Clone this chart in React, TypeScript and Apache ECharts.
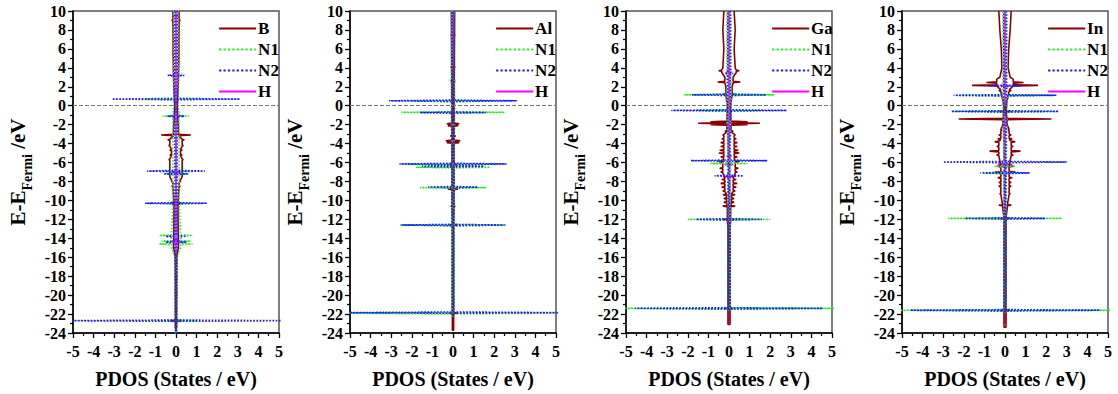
import React, { useEffect, useRef } from "react";
import * as echarts from "echarts";

const FONT = "Liberation Serif, Times New Roman, serif";

// ---- tick / axis ranges ----
const X_MIN = -5;
const X_MAX = 5;
const Y_MIN = -24;
const Y_MAX = 10;

// ---- panel metals ----
const metals = ["B", "Al", "Ga", "In"];
const speciesN = ["N1", "N2", "H"];

// ---- Panel 1 (B): column half-widths [E, v] and peaks [E, height] ----
const p1_M_col: [number, number][] = [[10, 0.15], [6, 0.14], [3, 0.12], [1.5, 0.1], [0, 0.06], [-2.5, 0.12], [-4, 0.3], [-5, 0.22], [-6, 0.3], [-7.5, 0.3], [-8.2, 0.15], [-12, 0.1], [-15, 0.12], [-16, 0.03], [-23.5, 0.03]];
const p1_M_peaks: [number, number][] = [[9, 0.2], [7, 0.15], [5.5, 0.15], [-3.1, 0.72], [-3.6, 0.4], [-4.2, 0.35], [-4.7, 0.3], [-5.2, 0.3], [-5.7, 0.35], [-6.2, 0.3], [-6.9, 0.35], [-7.4, 0.3], [-8.5, 0.2], [-10.3, 0.3], [-22.7, 0.3]];
const p1_N1_col: [number, number][] = [[10, 0.12], [1, 0.1], [-1, 0.15], [-8, 0.15], [-13.5, 0.22], [-15, 0.22], [-16, 0.03], [-24, 0.03]];
const p1_N1_peaks: [number, number][] = [[0.7, 1.5], [-1.1, 0.62], [-6.9, 0.6], [-7.2, 0.5], [-10.3, 0.6], [-13.7, 0.8], [-14.3, 0.7], [-14.6, 0.8], [-22.7, 1.0]];
const p1_N2_col: [number, number][] = [[10, 0.06], [-16, 0.05], [-24, 0.02]];
const p1_N2_peaks: [number, number][] = [[3.2, 0.4], [0.7, 3.1], [-1.1, 0.4], [-6.9, 1.4], [-7.2, 0.6], [-10.3, 1.5], [-13.8, 0.5], [-14.4, 0.5], [-22.7, 5.5]];
const p1_H_col: [number, number][] = [[10, 0], [-24, 0]];
const p1_H_peaks: [number, number][] = [[9.5, 0.1], [-7, 0.22], [-10.2, 0.15], [-14.3, 0.2]];

// ---- Panel 2 (Al) ----
const p2_M_col: [number, number][] = [[10, 0.08], [0, 0.05], [-23.7, 0.03]];
const p2_M_peaks: [number, number][] = [[-1.9, 0.3], [-2.1, 0.25], [-3.2, 0.12], [-3.7, 0.35], [-3.9, 0.3], [-6.2, 0.2], [-8.8, 0.25], [-10.6, 0.1], [-12.6, 0.15], [-21.9, 0.2]];
const p2_N1_col: [number, number][] = [[10, 0.08], [-22, 0.05], [-22.2, 0.02]];
const p2_N1_peaks: [number, number][] = [[2.7, 0.15], [0.5, 2.0], [-0.7, 2.5], [-6.2, 2.2], [-6.5, 1.8], [-8.65, 1.6], [-12.6, 2.6], [-21.9, 5.5]];
const p2_N2_col: [number, number][] = [[10, 0.05], [-22, 0.04], [-22.2, 0.02]];
const p2_N2_peaks: [number, number][] = [[0.52, 3.1], [-0.72, 1.6], [-6.15, 2.6], [-6.4, 1.5], [-8.6, 1.2], [-12.6, 2.5], [-21.85, 5.5]];
const p2_H_col: [number, number][] = [[10, 0], [-23.7, 0]];
const p2_H_peaks: [number, number][] = [[7.5, 0.12], [4.1, 0.12], [2.5, 0.1], [-8.8, 0.2], [-12.6, 0.2]];

// ---- Panel 3 (Ga) ----
const p3_M_col: [number, number][] = [[10, 0.25], [8, 0.3], [6, 0.25], [4, 0.3], [3.5, 0.35], [3, 0.2], [2, 0.15], [0, 0.08], [-2.5, 0.1], [-3, 0.25], [-5, 0.25], [-6, 0.3], [-8, 0.2], [-10, 0.12], [-11, 0.08], [-13, 0.05], [-23.1, 0.05]];
const p3_M_peaks: [number, number][] = [[3.7, 0.5], [2.5, 0.55], [1.2, 0.3], [-1.7, 0.9], [-1.85, 1.5], [-2.0, 0.9], [-2.7, 0.2], [-3.1, 0.3], [-3.5, 0.35], [-3.9, 0.4], [-4.3, 0.4], [-4.7, 0.45], [-5.0, 0.5], [-5.4, 0.4], [-5.9, 0.5], [-6.6, 0.45], [-7.0, 0.4], [-7.8, 0.35], [-8.2, 0.4], [-8.6, 0.35], [-9.0, 0.3], [-9.4, 0.3], [-9.8, 0.25], [-10.2, 0.25], [-10.6, 0.3], [-12, 0.25], [-21.4, 0.2]];
const p3_N1_col: [number, number][] = [[10, 0.1], [-21, 0.05], [-21.6, 0.02]];
const p3_N1_peaks: [number, number][] = [[1.15, 2.2], [-0.5, 1.5], [-6.1, 0.9], [-12, 2.0], [-21.4, 5.5]];
const p3_N2_col: [number, number][] = [[10, 0.06], [-21, 0.04], [-21.6, 0.02]];
const p3_N2_peaks: [number, number][] = [[3.4, 0.2], [1.15, 1.8], [-0.5, 2.8], [-5.8, 1.85], [-7.4, 0.7], [-12, 1.6], [-21.4, 4.55]];
const p3_H_col: [number, number][] = [[10, 0], [-23, 0]];
const p3_H_peaks: [number, number][] = [[3.5, 0.15], [-5.3, 0.12], [-6.2, 0.2], [-7.5, 0.2], [-12, 0.15]];

// ---- Panel 4 (In) ----
const p4_M_col: [number, number][] = [[10, 0.3], [8, 0.25], [6, 0.18], [4, 0.15], [3, 0.25], [2.8, 0.4], [1.5, 0.2], [0, 0.05], [-2, 0.1], [-3, 0.2], [-4, 0.3], [-5, 0.3], [-7, 0.2], [-9, 0.2], [-10.5, 0.12], [-12, 0.05], [-23.4, 0.05]];
const p4_M_peaks: [number, number][] = [[2.45, 0.9], [2.15, 1.6], [1.6, 0.3], [-0.6, 0.3], [-1.4, 2.25], [-2.6, 0.15], [-3.1, 0.3], [-3.5, 0.35], [-3.8, 0.5], [-4.3, 0.4], [-4.8, 0.75], [-5.2, 0.4], [-6.4, 0.4], [-7, 0.5], [-7.6, 0.35], [-8.1, 0.3], [-8.5, 0.3], [-9.3, 0.25], [-10.5, 0.3], [-11.9, 0.2], [-21.6, 0.25]];
const p4_N1_col: [number, number][] = [[10, 0.1], [-21, 0.05], [-21.8, 0.02]];
const p4_N1_peaks: [number, number][] = [[1.1, 2.4], [-0.6, 2.4], [-6.4, 0.5], [-7.1, 1.0], [-11.9, 2.75], [-21.6, 5.5]];
const p4_N2_col: [number, number][] = [[10, 0.06], [-21, 0.04], [-21.8, 0.02]];
const p4_N2_peaks: [number, number][] = [[2.1, 0.8], [1.1, 2.5], [-0.6, 2.6], [-5.95, 3.0], [-7.1, 1.2], [-11.9, 1.95], [-21.6, 4.6]];
const p4_H_col: [number, number][] = [[10, 0], [-23, 0]];
const p4_H_peaks: [number, number][] = [[2.1, 0.2], [-6.2, 0.35], [-6.4, 0.3], [-11.9, 0.3]];

const panels = [
  { M: [p1_M_col, p1_M_peaks], N1: [p1_N1_col, p1_N1_peaks], N2: [p1_N2_col, p1_N2_peaks], H: [p1_H_col, p1_H_peaks] },
  { M: [p2_M_col, p2_M_peaks], N1: [p2_N1_col, p2_N1_peaks], N2: [p2_N2_col, p2_N2_peaks], H: [p2_H_col, p2_H_peaks] },
  { M: [p3_M_col, p3_M_peaks], N1: [p3_N1_col, p3_N1_peaks], N2: [p3_N2_col, p3_N2_peaks], H: [p3_H_col, p3_H_peaks] },
  { M: [p4_M_col, p4_M_peaks], N1: [p4_N1_col, p4_N1_peaks], N2: [p4_N2_col, p4_N2_peaks], H: [p4_H_col, p4_H_peaks] },
];

// ---- layout / style ----
const GRID_LEFT = [73, 350, 626, 902];
const GRID_TOP = 11;
const GRID_W = 206;
const GRID_H = 330;
const SPIKE_HALF = 0.07;

const STYLE: Record<string, any> = {
  M: { color: "#8b0000", type: "solid", width: 1.6 },
  N1: { color: "#22ee22", type: "dotted", width: 1.6 },
  N2: { color: "#1a1aff", type: "dotted", width: 1.6 },
  H: { color: "#ff00ff", type: "solid", width: 1.6 },
};

// Closed mirrored outline of a PDOS curve: right side (+v) top->bottom, then left side (-v) bottom->top.
function buildLoop(col: [number, number][], peaks: [number, number][]) {
  const colSorted = [...col].sort((a, b) => b[0] - a[0]);
  const baseAt = (e: number) => {
    let best = colSorted[0];
    for (const c of colSorted) if (Math.abs(c[0] - e) < Math.abs(best[0] - e)) best = c;
    return e < colSorted[colSorted.length - 1][0] ? 0 : best[1];
  };
  const pts: [number, number][] = [...col];
  for (const [e, h] of peaks) {
    const b = baseAt(e);
    pts.push([e + SPIKE_HALF, b], [e, h], [e - SPIKE_HALF, b]);
  }
  pts.sort((a, b) => b[0] - a[0]);
  const right = pts.map(([e, v]) => [v, e]);
  const left = [...pts].reverse().map(([e, v]) => [-v, e]);
  return [...right, ...left];
}

export default function App() {
  const ref = useRef<HTMLDivElement>(null);
  useEffect(() => {
    document.body.style.margin = "0";
    if (!ref.current) return;
    const chart = echarts.init(ref.current, null, { renderer: "svg" });

    const labelStyle = { fontFamily: FONT, fontWeight: "bold", color: "#000" };

    const grid = GRID_LEFT.map((l) => ({
      left: l,
      top: GRID_TOP,
      width: GRID_W,
      height: GRID_H,
      show: true,
      borderColor: "#555",
      borderWidth: 1.5,
      backgroundColor: "transparent",
    }));

    const xAxis = GRID_LEFT.map((_, i) => ({
      gridIndex: i,
      type: "value",
      min: X_MIN,
      max: X_MAX,
      interval: 1,
      axisLine: { show: true, onZero: false, lineStyle: { color: "#000", width: 1.5 } },
      axisTick: { show: true, inside: false, length: 5, lineStyle: { color: "#000", width: 1.3 } },
      minorTick: { show: true, splitNumber: 2, length: 3, lineStyle: { color: "#000", width: 1.2 } },
      splitLine: { show: false },
      axisLabel: { ...labelStyle, fontSize: 16, margin: 10 },
      name: "PDOS (States / eV)",
      nameLocation: "middle",
      nameGap: 36,
      nameTextStyle: { ...labelStyle, fontSize: 20 },
    }));

    const yAxis = GRID_LEFT.map((_, i) => ({
      gridIndex: i,
      type: "value",
      min: Y_MIN,
      max: Y_MAX,
      interval: 2,
      axisLine: { show: true, onZero: false, lineStyle: { color: "#000", width: 1.5 } },
      axisTick: { show: true, inside: false, length: 5, lineStyle: { color: "#000", width: 1.3 } },
      minorTick: { show: true, splitNumber: 2, length: 3, lineStyle: { color: "#000", width: 1.2 } },
      splitLine: { show: false },
      axisLabel: { ...labelStyle, fontSize: 16, margin: 7 },
      name: "{a|E-E}{b|Fermi}{a| /eV}",
      nameLocation: "middle",
      nameGap: 39,
      nameTextStyle: {
        rich: {
          a: { ...labelStyle, fontSize: 21, verticalAlign: "bottom", padding: [0, 0, 6, 0] },
          b: { ...labelStyle, fontSize: 14, verticalAlign: "bottom", padding: [0, 0, 0, 0] },
        },
      },
    }));

    const series: any[] = [];
    panels.forEach((p, i) => {
      const order: [string, string][] = [["H", "H"], ["M", metals[i]], ["N1", "N1"], ["N2", "N2"]];
      order.forEach(([key, name]) => {
        const [col, peaks] = (p as any)[key];
        const s: any = {
          type: "line",
          name,
          xAxisIndex: i,
          yAxisIndex: i,
          data: buildLoop(col, peaks),
          symbol: "none",
          showSymbol: false,
          clip: true,
          lineStyle: STYLE[key],
          itemStyle: { color: STYLE[key].color },
          z: 2,
        };
        if (key === "H") {
          s.markLine = {
            silent: true,
            symbol: ["none", "none"],
            label: { show: false },
            lineStyle: { color: "#777", type: "dashed", width: 1 },
            data: [{ yAxis: 0 }],
          };
        }
        series.push(s);
      });
    });

    const legend = GRID_LEFT.map((l, i) => ({
      data: [metals[i], ...speciesN],
      orient: "vertical",
      left: l + 140,
      top: 15,
      itemWidth: 37,
      itemHeight: 12,
      itemGap: 4,
      selectedMode: false,
      itemStyle: { opacity: 0 },
      lineStyle: { width: 2.2 },
      textStyle: { ...labelStyle, fontSize: 17, padding: [0, 0, 0, -3] },
    }));

    chart.setOption({
      animation: false,
      backgroundColor: "#fff",
      grid,
      xAxis,
      yAxis,
      legend,
      series,
    });
    return () => chart.dispose();
  }, []);
  return <div ref={ref} style={{ width: 1118, height: 394 }} />;
}
